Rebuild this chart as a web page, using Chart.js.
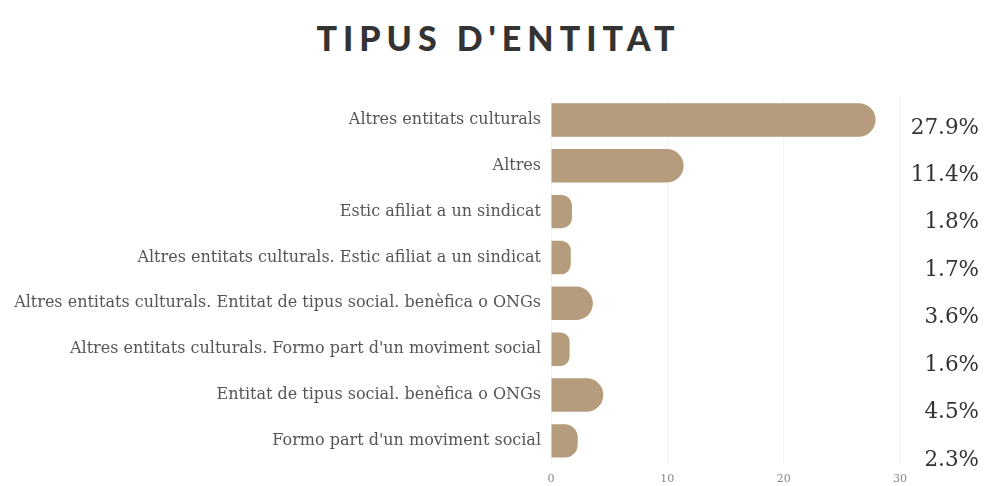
<!DOCTYPE html>
<html>
<head>
<meta charset="utf-8">
<script src="https://cdn.jsdelivr.net/npm/chart.js@4.4.1/dist/chart.umd.min.js"></script>
<style>
  body { margin: 0; background: #fff; overflow: hidden; }
  .title {
    height: 76px; margin: 0;
    font-family: "Lato", sans-serif; font-weight: 900; font-size: 34px;
    letter-spacing: 6px; color: #333; text-align: center; line-height: 76px;
    padding-left: 12px;
  }
  .wrap { position: relative; width: 985px; height: 419px; }
</style>
</head>
<body>
<h1 class="title">TIPUS D'ENTITAT</h1>
<div class="wrap"><canvas id="chart"></canvas></div>
<script>
const categories = [
  "Altres entitats culturals",
  "Altres",
  "Estic afiliat a un sindicat",
  "Altres entitats culturals. Estic afiliat a un sindicat",
  "Altres entitats culturals. Entitat de tipus social. benèfica o ONGs",
  "Altres entitats culturals. Formo part d'un moviment social",
  "Entitat de tipus social. benèfica o ONGs",
  "Formo part d'un moviment social"
];
const percents = [27.9, 11.4, 1.8, 1.7, 3.6, 1.6, 4.5, 2.3];
const xTicks = [0, 10, 20, 30];

// percent labels on the right, drifting a little below each bar
const percentLabels = {
  id: "percentLabels",
  afterDraw(chart) {
    const ctx = chart.ctx;
    const y = chart.scales.y;
    ctx.save();
    ctx.font = "21.5px 'DejaVu Serif'";
    ctx.fillStyle = "#333";
    ctx.textAlign = "right";
    ctx.textBaseline = "middle";
    percents.forEach((v, i) => {
      ctx.fillText(v.toFixed(1) + "%", 979, y.getPixelForValue(i) + 8 + i * 1.6);
    });
    ctx.restore();
  }
};

new Chart(document.getElementById("chart"), {
  type: "bar",
  data: {
    labels: categories,
    datasets: [{
      data: percents,
      backgroundColor: "#b59c7c",
      borderRadius: { topRight: 40, bottomRight: 40 },
      borderSkipped: "start",
      categoryPercentage: 0.73,
      barPercentage: 1
    }]
  },
  options: {
    indexAxis: "y",
    responsive: true,
    maintainAspectRatio: false,
    animation: false,
    layout: { padding: { top: 21, right: 85, bottom: 0, left: 0 } },
    plugins: { legend: { display: false }, tooltip: { enabled: false } },
    scales: {
      x: {
        min: 0, max: 30,
        afterBuildTicks: (s) => { s.ticks = xTicks.map(v => ({ value: v })); },
        grid: { color: "#f3f3f3", drawTicks: false },
        border: { display: false },
        ticks: { color: "#888", font: { family: "DejaVu Serif", size: 11 }, padding: 9 }
      },
      y: {
        afterFit: (s) => { s.width = 551; },
        grid: { display: false },
        border: { display: false },
        ticks: { color: "#555", font: { family: "DejaVu Serif", size: 16 }, padding: 2 }
      }
    }
  },
  plugins: [percentLabels]
});
</script>
</body>
</html>
